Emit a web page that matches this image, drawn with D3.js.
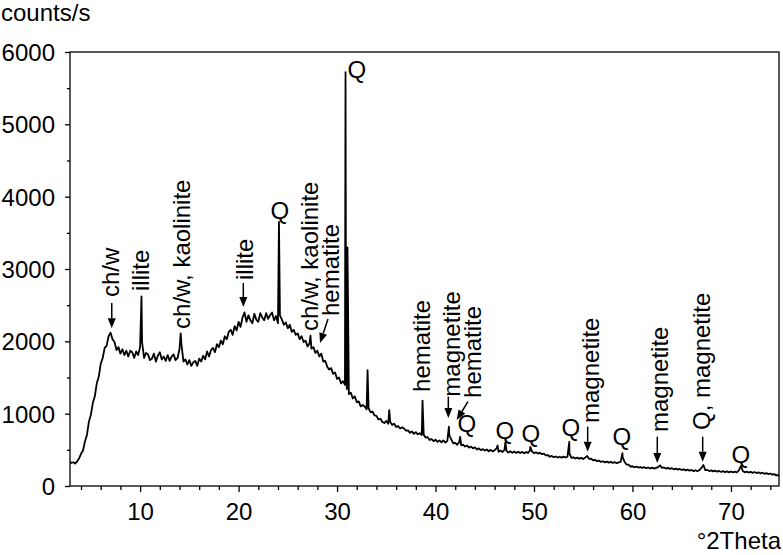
<!DOCTYPE html>
<html><head><meta charset="utf-8">
<script src="https://cdn.jsdelivr.net/npm/d3@7"></script>
<style>
html,body{margin:0;padding:0;background:#fff;}
svg{display:block;font-family:"Liberation Sans",Arial,Helvetica,sans-serif;}
</style></head><body>
<svg id="chart" width="783" height="555"></svg>
<script>
// ---- data ----
const scanStart = 2.8, scanStep = 0.2;   // °2Theta sampling grid
const scanCounts = [
  345,318,328,310,340,380,445,490,615,705,
  890,985,1150,1240,1420,1510,1690,1770,1910,1940,
  2070,2120,2030,1990,1880,1920,1830,1890,1810,1870,
  1790,1870,1850,1770,1860,1810,1920,1990,1770,1840,
  1820,1740,1760,1830,1720,1800,1850,1750,1790,1730,
  1810,1730,1790,1820,1740,1770,1890,1960,1720,1750,
  1680,1740,1660,1710,1730,1660,1760,1720,1800,1750,
  1860,1790,1880,1910,1850,1960,1920,2010,1960,2070,
  2030,2130,2160,2090,2210,2150,2270,2200,2330,2400,
  2270,2360,2290,2250,2380,2300,2270,2390,2330,2290,
  2390,2310,2360,2400,2290,2350,2250,2360,2300,2230,
  2260,2180,2230,2130,2160,2090,2110,2030,2070,1990,
  2010,1930,1970,1900,1920,1840,1870,1790,1830,1720,
  1730,1650,1610,1630,1550,1570,1480,1500,1420,1450,
  1400,1340,1270,1290,1210,1240,1160,1170,1100,1120,
  1100,1060,1075,1020,1030,975,970,920,930,885,
  870,900,860,885,845,860,815,830,795,810,
  795,765,770,735,755,720,745,715,730,705,
  710,670,675,635,650,620,640,610,630,605,
  630,600,625,700,645,590,595,570,605,565,
  570,545,560,530,545,520,535,505,520,495,
  510,490,505,480,500,478,495,520,472,490,
  470,500,488,462,480,458,476,457,474,455,
  472,452,468,458,495,475,455,466,448,460,
  440,446,424,428,404,416,398,408,393,404,
  392,406,394,405,450,388,397,380,392,376,
  389,372,392,415,374,377,355,362,343,352,
  333,342,327,337,323,334,319,329,315,327,
  333,400,333,296,295,269,273,259,268,255,
  262,250,260,246,256,242,254,240,251,261,
  285,249,256,241,251,237,246,231,241,226,
  236,222,231,216,226,212,221,206,218,204,
  220,250,290,219,221,207,216,202,212,198,
  208,194,205,192,202,189,201,188,199,187,
  216,275,207,189,199,186,196,182,193,179,
  189,174,184,169,178,164,173,157,164,147,
  152,138
];
const peakAngles = [10.14, 14.12, 24.1, 27.3, 30.86, 30.92, 31.06, 33.1, 35.3, 38.68, 41.36, 42.5, 46.3, 47.1, 49.62, 53.58, 58.98, 71.02];
const peakCounts = [2620, 2110, 3650, 2080, 5720, 1500, 3300, 1600, 1050, 1180, 820, 680, 560, 610, 540, 610, 455, 275];

const xMajorTicks = [10, 20, 30, 40, 50, 60, 70];
const xMinorTicks = [4, 6, 8, 12, 14, 16, 18, 22, 24, 26, 28, 32, 34, 36, 38, 42, 44, 46, 48, 52, 54, 56, 58, 62, 64, 66, 68, 72, 74];
const yMajorTicks = [0, 1000, 2000, 3000, 4000, 5000, 6000];
const yMinorTicks = [500, 1500, 2500, 3500, 4500, 5500];

// rotated phase labels
const labelTexts   = ["ch/w", "illite", "ch/w, kaolinite", "illite", "ch/w, kaolinite", "hematite", "hematite", "magnetite", "hematite", "magnetite", "magnetite", "Q, magnetite"];
const labelAngles  = [7.05, 10.04, 14.2, 20.65, 27.25, 29.33, 38.57, 41.62, 43.75, 55.73, 62.74, 67.0];
const labelBottoms = [2613, 2696, 2171, 2848, 2143, 2350, 1300, 1235, 1217, 871, 747, 774];
const arrowStartAngles = [7.12, null, null, 20.48, null, 29.08, null, 41.3, 43.29, 55.45, 62.52, 67.13];
const arrowEndAngles   = [7.12, null, null, 20.48, null, 28.27, null, 41.3, 42.15, 55.45, 62.52, 67.13];
const arrowFrom = [2530, null, null, 2807, null, 2309, null, 1235, 1166, 820, 682, 682];
const arrowTo   = [2180, null, null, 2475, null, 1977, null, 940, 912, 474, 318, 336];

// quartz labels
const qAngles = [24.2, 32.02, 43.19, 47.05, 49.69, 53.75, 58.93, 71.0];
const qCounts = [3802, 5752, 857, 760, 719, 802, 677, 429];

// ---- chart ----
const svg = d3.select("#chart");
const L = 70, R = 779, T = 52, B = 486;
const x = d3.scaleLinear().domain([2.88, 74.88]).range([L, R]);
const y = d3.scaleLinear().domain([0, 6000]).range([B, T]);
const FS = 24;

const pts = scanCounts.map((c, i) => [scanStart + i * scanStep, c]);
peakAngles.forEach((a, i) => pts.push([a, peakCounts[i]]));
pts.sort((p, q) => p[0] - q[0]);

svg.append("defs").append("clipPath").attr("id", "clip")
  .append("rect").attr("x", L).attr("y", T - 5).attr("width", R - L).attr("height", B - T + 5);

svg.append("path").datum(pts)
  .attr("clip-path", "url(#clip)")
  .attr("fill", "none").attr("stroke", "#000").attr("stroke-width", 1.8)
  .attr("stroke-linejoin", "round")
  .attr("d", d3.line().x(d => x(d[0])).y(d => y(d[1])));

svg.append("rect").attr("x", L).attr("y", T).attr("width", R - L).attr("height", B - T)
  .attr("fill", "none").attr("stroke", "#000").attr("stroke-width", 1.3);

const gx = svg.append("g").attr("transform", `translate(0,${B})`);
gx.call(d3.axisBottom(x).tickValues(xMajorTicks).tickSize(6).tickPadding(11).tickFormat(d3.format("d")));
const gxm = svg.append("g").attr("transform", `translate(0,${B})`);
gxm.call(d3.axisBottom(x).tickValues(xMinorTicks).tickSize(4).tickFormat(""));
const gy = svg.append("g").attr("transform", `translate(${L},0)`);
gy.call(d3.axisLeft(y).tickValues(yMajorTicks).tickSize(5).tickPadding(10).tickFormat(d3.format("d")));
const gym = svg.append("g").attr("transform", `translate(${L},0)`);
gym.call(d3.axisLeft(y).tickValues(yMinorTicks).tickSize(3).tickFormat(""));
[gx, gxm, gy, gym].forEach(g => {
  g.select(".domain").remove();
  g.selectAll("line").attr("stroke", "#000").attr("stroke-width", 1.3);
  g.selectAll("text").attr("font-size", FS).attr("fill", "#000")
    .attr("font-family", '"Liberation Sans",Arial,sans-serif');
});
gy.selectAll("text").attr("dy", "0.36em");

svg.append("text").attr("x", 1).attr("y", 21).attr("font-size", 24).text("counts/s");
svg.append("text").attr("x", 781).attr("y", 549).attr("font-size", 24).attr("text-anchor", "end").text("°2Theta");

labelTexts.forEach((t, i) => {
  const px = x(labelAngles[i]), py = y(labelBottoms[i]);
  svg.append("text").attr("transform", `translate(${px},${py}) rotate(-90)`)
    .attr("dy", "0.35em").attr("font-size", FS).text(t);
  if (arrowFrom[i] != null) {
    const x1 = x(arrowStartAngles[i]), y1 = y(arrowFrom[i]);
    const x2 = x(arrowEndAngles[i]), y2 = y(arrowTo[i]);
    const ang = Math.atan2(y2 - y1, x2 - x1);
    const hl = 10, hw = 4;
    const bx = x2 - hl * Math.cos(ang), by = y2 - hl * Math.sin(ang);
    svg.append("line").attr("x1", x1).attr("y1", y1).attr("x2", bx).attr("y2", by)
      .attr("stroke", "#000").attr("stroke-width", 1.5);
    const nx = -Math.sin(ang) * hw, ny = Math.cos(ang) * hw;
    svg.append("path")
      .attr("d", `M${x2},${y2}L${bx + nx},${by + ny}L${bx - nx},${by - ny}Z`)
      .attr("fill", "#000");
  }
});

qAngles.forEach((a, i) => {
  svg.append("text").attr("x", x(a)).attr("y", y(qCounts[i]))
    .attr("dy", "0.35em").attr("text-anchor", "middle").attr("font-size", FS).text("Q");
});
</script>
</body></html>
